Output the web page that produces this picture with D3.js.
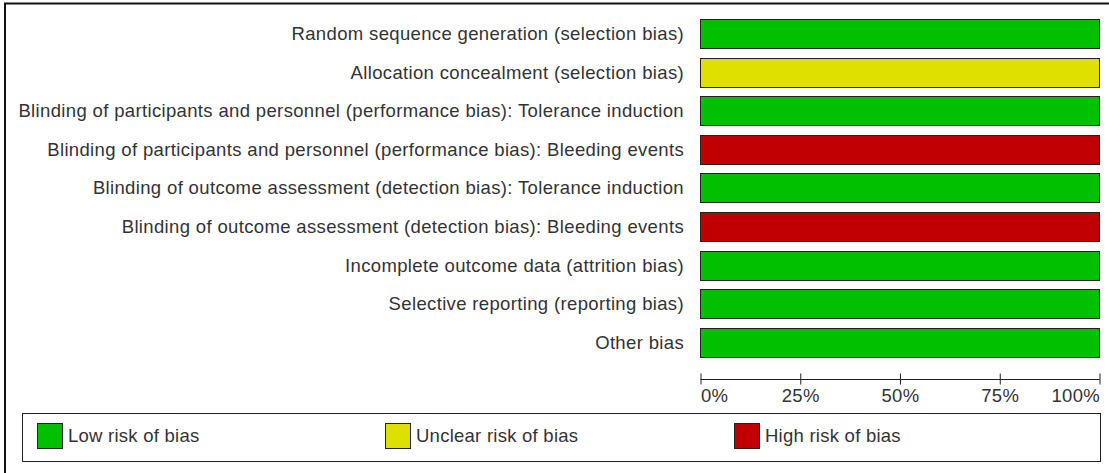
<!DOCTYPE html>
<meta charset="utf-8">
<body style="margin:0;background:#fff">
<div class="chart"></div>
<script src="https://d3js.org/d3.v7.min.js"></script>
<script>
    // risk of bias graph, one row per domain
    const domains = [
        "Random sequence generation (selection bias)",
        "Allocation concealment (selection bias)",
        "Blinding of participants and personnel (performance bias): Tolerance induction",
        "Blinding of participants and personnel (performance bias): Bleeding events",
        "Blinding of outcome assessment (detection bias): Tolerance induction",
        "Blinding of outcome assessment (detection bias): Bleeding events",
        "Incomplete outcome data (attrition bias)",
        "Selective reporting (reporting bias)",
        "Other bias"
    ];
    // percentage of studies per judgement
    const lowRisk     = [100, 0, 100, 0, 100, 0, 100, 100, 100];
    const unclearRisk = [0, 100, 0, 0, 0, 0, 0, 0, 0];
    const highRisk    = [0, 0, 0, 100, 0, 100, 0, 0, 0];
    const tickValues = [0, 25, 50, 75, 100];
    const legendLabels = ["Low risk of bias", "Unclear risk of bias", "High risk of bias"];
    const colours = ["#00c000", "#e0e000", "#c00000"];

    const width = 1109, height = 473;
    const font = "'Liberation Sans', Arial, sans-serif";

    let svg = d3.select(".chart").append("svg")
        .attr("width", width)
        .attr("height", height)
        .style("display", "block");

    // outer frame (only top and left visible)
    svg.append("path")
        .attr("d", `M5,${height}V3.5H${width}`)
        .attr("fill", "none")
        .attr("stroke", "#111")
        .attr("stroke-width", 2);

    let x = d3.scaleLinear().domain([0, 100]).range([700, 1099]);
    let y = d3.scaleBand().domain(domains).range([9.35, 366.4]).padding(0.25);

    // stack the three judgements per domain
    let rows = domains.map((d, i) => ({domain: d, values: [lowRisk[i], unclearRisk[i], highRisk[i]]}));
    let segs = [];
    rows.forEach(r => {
        let acc = 0;
        r.values.forEach((v, k) => {
            if (v > 0) segs.push({domain: r.domain, x0: acc, x1: acc + v, k: k});
            acc += v;
        });
    });

    svg.append("g")
        .selectAll("rect")
        .data(segs)
        .join("rect")
        .attr("x", d => x(d.x0) + 0.5)
        .attr("y", d => Math.round(y(d.domain)) + 0.5)
        .attr("width", d => x(d.x1) - x(d.x0))
        .attr("height", Math.round(y.bandwidth()))
        .attr("fill", d => colours[d.k])
        .attr("stroke", "#222")
        .attr("stroke-width", 1);

    svg.append("g")
        .selectAll("text")
        .data(domains)
        .join("text")
        .attr("x", 684)
        .attr("y", d => y(d) + y.bandwidth() / 2)
        .attr("dy", "0.35em")
        .attr("text-anchor", "end")
        .style("font-family", font)
        .style("font-size", "18.5px")
        .style("letter-spacing", "0.35px")
        .attr("fill", "#333")
        .text(d => d);

    // x axis
    let axis = svg.append("g")
        .attr("transform", "translate(0.5,379.5)")
        .call(d3.axisBottom(x).tickValues(tickValues).tickSize(5).tickFormat(d => d + "%"));
    axis.select(".domain").attr("d", `M${x(0)},0H${x(100)}`).attr("stroke", "#222");
    axis.selectAll(".tick line").attr("y1", -6).attr("y2", 5).attr("stroke", "#222");
    axis.selectAll(".tick text")
        .attr("y", 0)
        .attr("dy", 0)
        .attr("transform", "translate(0,22)")
        .attr("text-anchor", (d, i) => i === 0 ? "start" : i === tickValues.length - 1 ? "end" : "middle")
        .style("font-family", font)
        .style("font-size", "18.5px")
        .style("letter-spacing", "0.3px")
        .attr("fill", "#333");

    // legend
    let legend = svg.append("g");
    legend.append("rect")
        .attr("x", 22.5).attr("y", 413.5)
        .attr("width", 1078).attr("height", 48)
        .attr("fill", "none")
        .attr("stroke", "#222");
    let legendX = [37, 385, 734];
    let item = legend.selectAll("g.item")
        .data(legendLabels)
        .join("g")
        .attr("class", "item")
        .attr("transform", (d, i) => `translate(${legendX[i]},423)`);
    item.append("rect")
        .attr("x", 0.5).attr("y", 0.5)
        .attr("width", 25).attr("height", 25)
        .attr("fill", (d, i) => colours[i])
        .attr("stroke", "#222");
    item.append("text")
        .attr("x", 31)
        .attr("y", 13)
        .attr("dy", "0.35em")
        .style("font-family", font)
        .style("font-size", "18.5px")
        .style("letter-spacing", "0.25px")
        .attr("fill", "#333")
        .text(d => d);
</script>
</body>
